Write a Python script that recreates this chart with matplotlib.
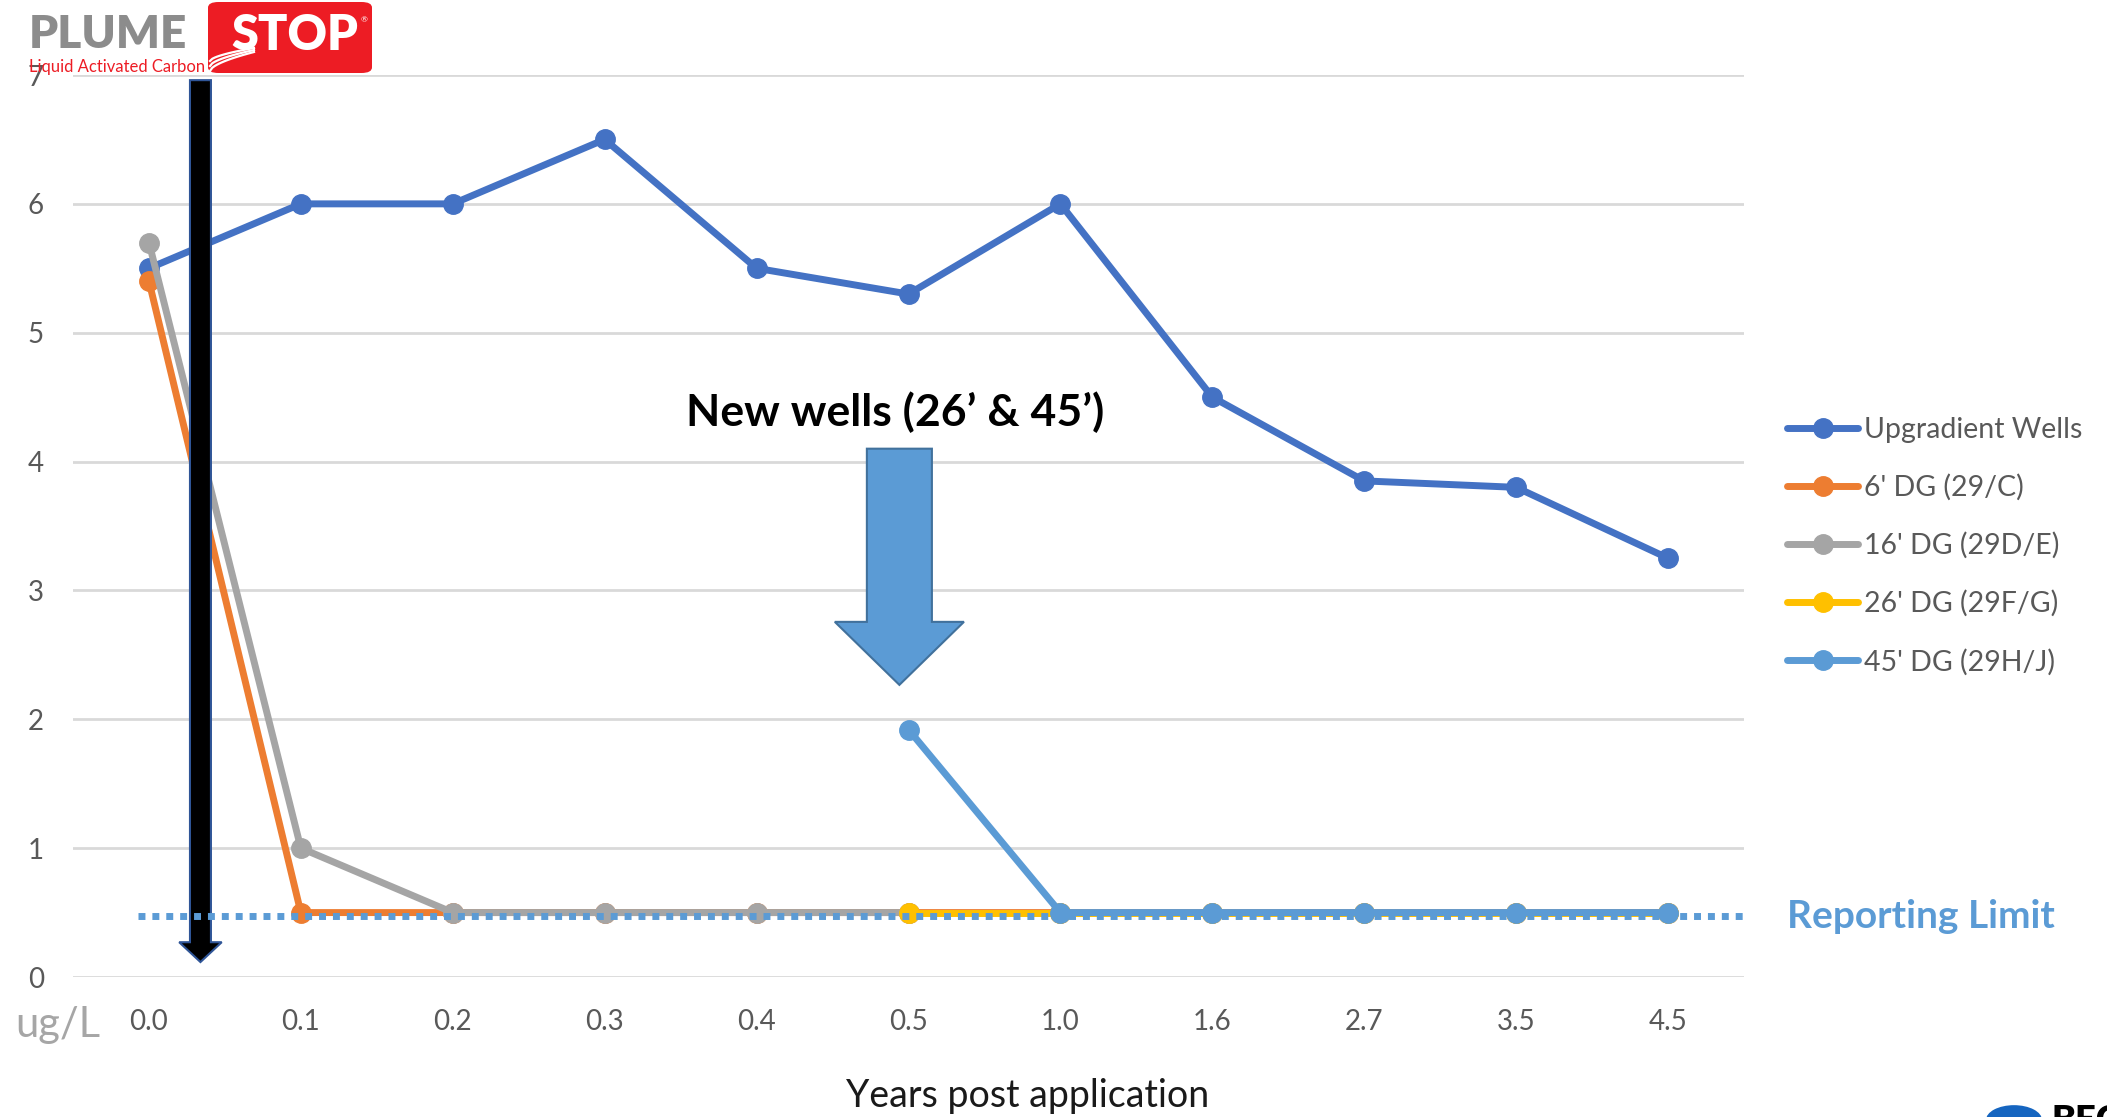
import numpy as np
import matplotlib.pyplot as plt
from matplotlib.patches import Polygon, FancyBboxPatch, Circle
from matplotlib.lines import Line2D

# ---------------------------------------------
# Dados
# ---------------------------------------------
anos = ['0.0', '0.1', '0.2', '0.3', '0.4', '0.5', '1.0', '1.6', '2.7', '3.5', '4.5']
nan = np.nan
upgradient = [5.5, 6.0, 6.0, 6.5, 5.5, 5.3, 6.0, 4.5, 3.85, 3.8, 3.25]
dg6 = [5.4, 0.5, 0.5, 0.5, 0.5, 0.5, 0.5, 0.5, 0.5, 0.5, 0.5]
dg16 = [5.7, 1.0, 0.5, 0.5, 0.5, 0.5, nan, nan, nan, nan, nan]
dg26 = [nan, nan, nan, nan, nan, 0.5, 0.5, 0.5, 0.5, 0.5, 0.5]
dg45 = [nan, nan, nan, nan, nan, 1.92, 0.5, 0.5, 0.5, 0.5, 0.5]
limite = 0.47

series = [
    ('Upgradient Wells', upgradient, '#4472C4'),
    ("6' DG (29/C)", dg6, '#ED7D31'),
    ("16' DG (29D/E)", dg16, '#A5A5A5'),
    ("26' DG (29F/G)", dg26, '#FFC000'),
    ("45' DG (29H/J)", dg45, '#5B9BD5'),
]

plt.rcParams['font.family'] = ['Lato', 'DejaVu Sans']

W, H = 2107, 1117
fig = plt.figure(figsize=(W / 100, H / 100), dpi=100)

def fx(px):
    return px / W

def fy(py):
    return 1 - py / H

ax = fig.add_axes([fx(73), fy(977), fx(1744) - fx(73), fy(75) - fy(977)])
x = np.arange(len(anos))

for nome, vals, cor in series:
    ax.plot(x, vals, color=cor, lw=5, marker='o', ms=14, label=nome,
            solid_joinstyle='round', solid_capstyle='round', zorder=3)

# linha do limite de quantificacao
ax.plot([-0.07, 10.5], [limite, limite], color='#5B9BD5', lw=5,
        linestyle=(0, (1, 1)), dash_capstyle='butt', zorder=6)

# seta preta (aplicacao)
xa = 0.339
seta_preta = Polygon([[xa - 0.069, 6.96], [xa + 0.069, 6.96], [xa + 0.069, 0.27],
                      [xa + 0.14, 0.27], [xa, 0.116], [xa - 0.14, 0.27],
                      [xa - 0.069, 0.27]],
                     closed=True, facecolor='black', edgecolor='#2F5597', lw=1.5, zorder=5)
ax.add_patch(seta_preta)

# seta azul (novos pocos)
xb = 4.94
seta_azul = Polygon([[xb - 0.214, 4.10], [xb + 0.214, 4.10], [xb + 0.214, 2.756],
                     [xb + 0.425, 2.756], [xb, 2.267], [xb - 0.425, 2.756],
                     [xb - 0.214, 2.756]],
                    closed=True, facecolor='#5B9BD5', edgecolor='#41719C', lw=1.5, zorder=5)
ax.add_patch(seta_azul)

ax.set_xlim(-0.5, 10.5)
ax.set_ylim(0, 7)
ax.set_yticks(range(8))
ax.set_xticks(x)
ax.set_xticklabels(anos)
ax.grid(axis='y', color='#D9D9D9', lw=2)
ax.set_axisbelow(True)
for s in ax.spines.values():
    s.set_visible(False)
ax.tick_params(axis='both', length=0, labelsize=20, labelcolor='#595959')
ax.tick_params(axis='y', pad=21)
ax.tick_params(axis='x', pad=23)

ax.legend(loc='center left', bbox_to_anchor=(fx(1787), fy(546)),
          bbox_transform=fig.transFigure, frameon=False, fontsize=20.5,
          handlelength=2.5, handletextpad=0.2, labelspacing=1.1,
          borderpad=0, borderaxespad=0, labelcolor='#595959')

fig.text(fx(686), fy(412), 'New wells (26\u2019 & 45\u2019)', fontsize=32,
         fontweight='bold', color='black', ha='left', va='center')
fig.text(fx(1787), fy(916), 'Reporting Limit', fontsize=28, fontweight='bold',
         color='#5B9BD5', ha='left', va='center')
fig.text(fx(15), fy(1025), 'ug/L', fontsize=30, color='#A6A6A6', ha='left', va='center')
fig.text(fx(1028), fy(1096), 'Years post application', fontsize=27,
         color='#1a1a1a', ha='center', va='center')

# logotipo
logo = FancyBboxPatch((fx(208), fy(73)), fx(372) - fx(208), fy(2) - fy(73),
                      boxstyle='round,pad=0,rounding_size=0.005',
                      transform=fig.transFigure, facecolor='#ED1C24',
                      edgecolor='none', zorder=10)
fig.patches.append(logo)
fig.text(fx(29), fy(35), 'PLUME', fontsize=33, fontweight='heavy', color='#8C8C8C',
         ha='left', va='center', zorder=11)
fig.text(fx(231), fy(36), 'STOP', fontsize=35, fontweight='heavy', color='white',
         ha='left', va='center', zorder=11)
fig.text(fx(361), fy(20), '\u00ae', fontsize=6, color='white', ha='left',
         va='center', zorder=11)
fig.text(fx(29), fy(67), 'Liquid Activated Carbon', fontsize=12, color='#ED1C24',
         ha='left', va='center', zorder=11)
t = np.linspace(0, 1, 20)
for y0, y1 in ((71, 52), (66, 50), (61, 48)):
    px = 210 + 44 * t
    py = y0 + (y1 - y0) * t ** 0.6
    fig.add_artist(Line2D(fx(px), fy(py), transform=fig.transFigure,
                          color='white', lw=1.6, zorder=11))

# marca no canto inferior direito
fig.patches.append(Circle((fx(2014), fy(1120)), fx(28), transform=fig.transFigure,
                          facecolor='#1565C0', edgecolor='none', zorder=10))
fig.text(fx(2052), fy(1104), 'BEC', fontsize=26, fontweight='heavy', color='black',
         ha='left', va='top', zorder=11)

plt.savefig('out.png', dpi=100)
